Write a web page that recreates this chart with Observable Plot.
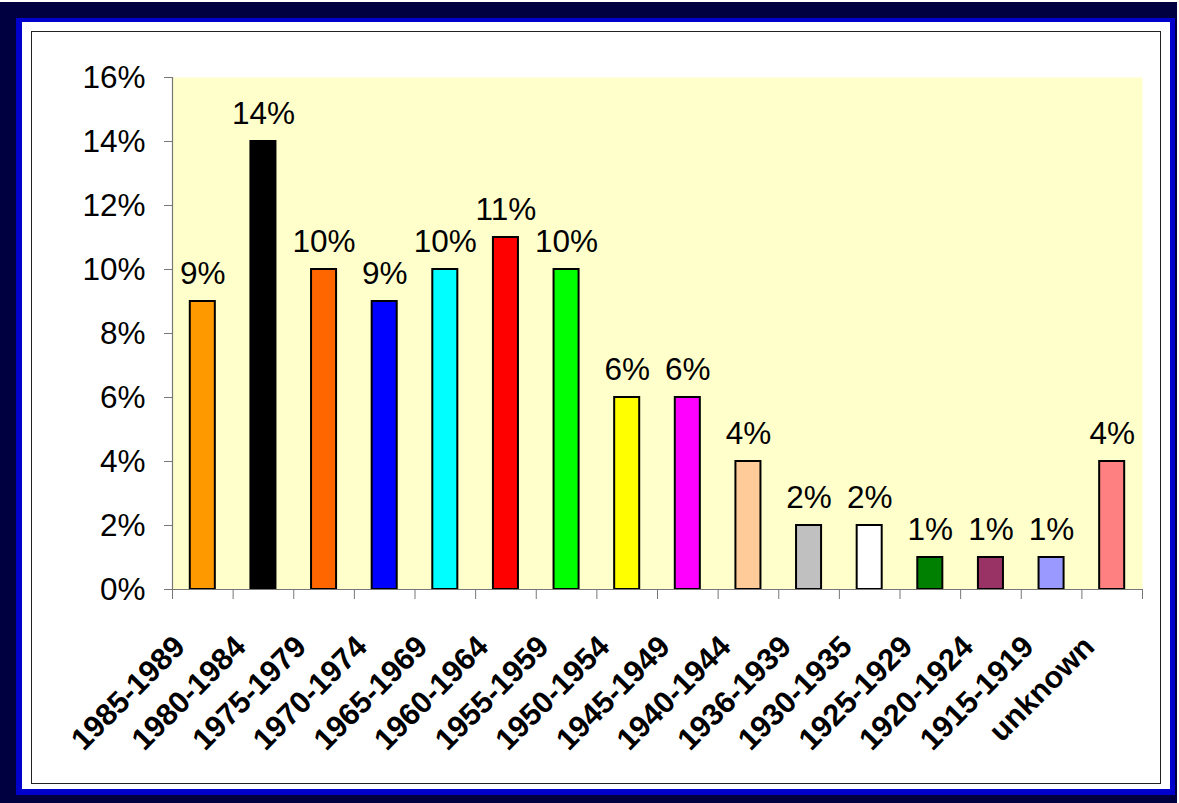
<!DOCTYPE html>
<html>
<head>
<meta charset="utf-8">
<script src="https://cdn.jsdelivr.net/npm/d3@7"></script>
<script src="https://cdn.jsdelivr.net/npm/@observablehq/plot@0.6"></script>
<style>
  html, body { margin: 0; padding: 0; background: #ffffff; }
  #page { position: relative; width: 1179px; height: 803px; overflow: hidden; font-family: "Liberation Sans", Arial, sans-serif; }
  .layer { position: absolute; box-sizing: border-box; }
  #shadow { left: 0; top: 2px; width: 1177px; height: 801px; background: #000040; }
  #blue { left: 16px; top: 18px; width: 1159px; height: 777px; background: #0000cc; }
  #white { left: 22px; top: 22px; width: 1148px; height: 767px; background: #ffffff; }
  #inner { left: 31px; top: 31px; width: 1130px; height: 753px; border: 1.5px solid #222; background: #ffffff; }
  #chart { position: absolute; left: 0; top: 0; }
</style>
</head>
<body>
<div id="page">
  <div class="layer" id="shadow"></div>
  <div class="layer" id="blue"></div>
  <div class="layer" id="white"></div>
  <div class="layer" id="inner"></div>
  <div id="chart"></div>
</div>
<script>
const categories = ["1985-1989", "1980-1984", "1975-1979", "1970-1974", "1965-1969", "1960-1964", "1955-1959", "1950-1954", "1945-1949", "1940-1944", "1936-1939", "1930-1935", "1925-1929", "1920-1924", "1915-1919", "unknown"];
const values = [9, 14, 10, 9, 10, 11, 10, 6, 6, 4, 2, 2, 1, 1, 1, 4];
const colors = ["#ff9900", "#000000", "#ff6600", "#0000ff", "#00ffff", "#ff0000", "#00ff00", "#ffff00", "#ff00ff", "#ffcc99", "#c0c0c0", "#ffffff", "#008000", "#993366", "#9999ff", "#ff8080"];
const yTicks = [0, 2, 4, 6, 8, 10, 12, 14, 16];

const data = categories.map((c, i) => ({category: c, value: values[i], i}));
const boundaries = d3.range(0, categories.length + 1);

const chart = Plot.plot({
  width: 1179,
  height: 803,
  marginLeft: 172,
  marginRight: 37,
  marginTop: 77,
  marginBottom: 214,
  style: {background: "none", overflow: "visible", fontFamily: "'Liberation Sans', Arial, sans-serif", color: "#000"},
  x: {domain: [0, categories.length]},
  y: {domain: [0, 16]},
  color: {domain: categories, range: colors},
  marks: [
    Plot.frame({fill: "#ffffcc", stroke: null}),
    Plot.rect(data, {x1: "i", x2: d => d.i + 1, y1: 0, y2: "value", fill: "category", stroke: "#000", strokeWidth: 2, insetLeft: 17.8, insetRight: 17.8}),
    Plot.text(data, {x: d => d.i + 0.5, y: "value", text: d => d.value + "%", lineAnchor: "bottom", dy: -18, fontSize: 31.5, fill: "#000"}),
    Plot.ruleX([0], {stroke: "#777", strokeWidth: 1.2}),
    Plot.ruleY([0], {stroke: "#777", strokeWidth: 1.2}),
    Plot.axisY({ticks: yTicks, tickFormat: d => d + "%", tickSize: 8, tickPadding: 19, fontSize: 31.5, stroke: "#777", fill: "#000", label: null}),
    Plot.axisX({ticks: boundaries, tickFormat: () => "", tickSize: 10, stroke: "#777", label: null}),
    Plot.text(data, {x: d => d.i + 0.5, text: "category", frameAnchor: "bottom", rotate: -45, textAnchor: "end", lineAnchor: "bottom", dx: -16, dy: 59, fontSize: 30.5, fontWeight: "bold", fill: "#000"})
  ]
});
document.getElementById("chart").appendChild(chart);
</script>
</body>
</html>
